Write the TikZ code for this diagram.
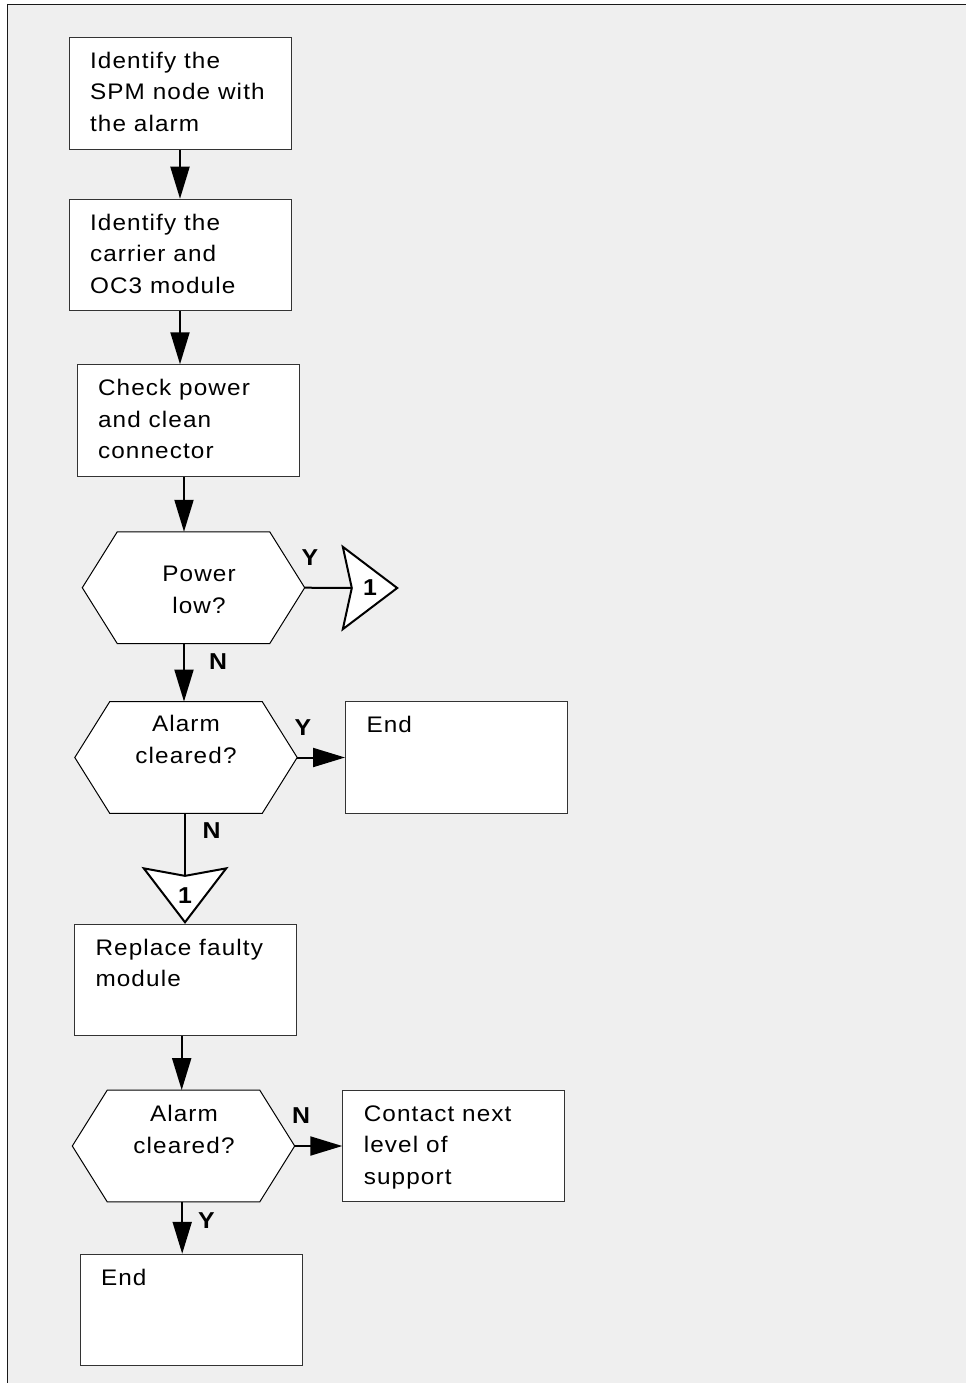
\documentclass[tikz,border=0pt]{standalone}
\usepackage{fontspec}
\setmainfont{Liberation Sans}[LetterSpace=5,FakeStretch=1.08]
\usetikzlibrary{arrows.meta,backgrounds}

\definecolor{panel}{RGB}{239,239,239}
\definecolor{boxline}{RGB}{51,51,51}

% hexagonal decision outline built on the anchors of a plain node
\newcommand\hexoutline[1]{%
  \path[hexline] (#1.west) -- ([xshift=35pt]#1.north west) -- ([xshift=-35pt]#1.north east)
    -- (#1.east) -- ([xshift=-35pt]#1.south east) -- ([xshift=35pt]#1.south west) -- cycle;}

\begin{document}
\begin{tikzpicture}[x=1pt,y=-1pt,
  box/.style={draw=boxline, line width=1pt, fill=white, minimum width=222pt,
    minimum height=111.5pt, inner sep=0pt},
  hexframe/.style={minimum width=222pt, minimum height=111.5pt, inner sep=0pt},
  hexline/.style={draw=black, line width=1pt, fill=white, line join=miter},
  pageconn/.style={draw=black, line width=2pt, fill=white, line join=miter},
  conn/.style={inner sep=0pt, font=\bfseries\fontsize{23}{27}\selectfont},
  txt/.style={font=\fontsize{22.5}{31.5}\selectfont, align=left, inner sep=0pt, anchor=north west},
  qtxt/.style={font=\fontsize{22.5}{31.5}\selectfont, align=center, inner sep=0pt, anchor=north},
  yn/.style={font=\bfseries\fontsize{23}{27}\selectfont, inner sep=0pt},
  flow/.style={line width=2pt},
  arr/.style={flow, -{Triangle[length=32pt,width=19pt]}}]

\useasboundingbox (0,0) rectangle (966,1383);

% process boxes
\node[box] (b1) at (180,93.5) {};
\node[box] (b2) at (180,255) {};
\node[box] (b3) at (188,420.5) {};
\node[box] (end1) at (456.5,757.5) {};
\node[box] (b4) at (185.5,980) {};
\node[box] (contact) at (453.8,1146) {};
\node[box] (end2) at (191,1310) {};

\node[txt] (b1t) at ([xshift=21.3pt,yshift=-9pt]b1.north west) {\strut Identify the\\SPM node with\\the alarm};
\node[txt] (b2t) at ([xshift=21.3pt,yshift=-9pt]b2.north west) {\strut Identify the\\carrier and\\OC3 module};
\node[txt] (b3t) at ([xshift=21.3pt,yshift=-9pt]b3.north west) {\strut Check power\\and clean\\connector};
\node[txt] (end1t) at ([xshift=21.3pt,yshift=-9pt]end1.north west) {\strut End};
\node[txt] (b4t) at ([xshift=21.3pt,yshift=-9pt]b4.north west) {\strut Replace faulty\\module};
\node[txt] (contactt) at ([xshift=21.3pt,yshift=-9pt]contact.north west) {\strut Contact next\\level of\\support};
\node[txt] (end2t) at ([xshift=21.3pt,yshift=-9pt]end2.north west) {\strut End};

% decisions
\node[hexframe] (h1) at (193.5,587.7) {};
\node[hexframe] (h2) at (186,757.5) {};
\node[hexframe] (h3) at (183.5,1146) {};
\node[qtxt] (h1t) at (199,559.7) {\strut Power\\low?};
\node[qtxt] (h2t) at (186,709.7) {\strut Alarm\\cleared?};
\node[qtxt] (h3t) at (184,1099.7) {\strut Alarm\\cleared?};

% off-page connectors
\node[conn, minimum width=54pt, minimum height=82pt] (c1) at (370,588) {1};
\node[conn, minimum width=82pt, minimum height=53.5pt] (c2) at (185,895.3) {1};

\begin{scope}[on background layer]
  \fill[white] (0,0) rectangle (966,1383);
  \fill[panel] (7.5,4.5) rectangle (966,1383);
  \draw[line width=1.3pt, black!90] (7,4.5) -- (966,4.5);
  \draw[line width=1.3pt, black!90] (7.5,4) -- (7.5,1383);
  \hexoutline{h1}
  \hexoutline{h2}
  \hexoutline{h3}
  \path[pageconn] (c1.north west) -- (c1.east) -- (c1.south west) -- ([xshift=9pt]c1.west) -- cycle;
  \path[pageconn] (c2.north west) -- ([yshift=-7.5pt]c2.north) -- (c2.north east) -- (c2.south) -- cycle;
\end{scope}

% connectors
\draw[arr] (b1) -- (b2);
\draw[arr] (b2.south) -- (b2.south |- b3.north);
\draw[arr] ([xshift=-4pt]b3.south) -- ([xshift=-4pt]b3.south |- h1.north);
\draw[arr] ([xshift=-9.5pt]h1.south) -- ([xshift=-9.5pt]h1.south |- h2.north);
\draw[flow] (h1.east) -- ([xshift=9pt]c1.west);
\draw[arr] (h2.east) -- (h2.east -| end1.west);
\draw[flow] (c2.north |- h2.south) -- ([yshift=-7.5pt]c2.north);
\draw[arr] ([xshift=-3.8pt]b4.south) -- ([xshift=-3.8pt]b4.south |- h3.north);
\draw[arr] (h3.east) -- (h3.east -| contact.west);
\draw[arr] ([xshift=-1.3pt]h3.south) -- ([xshift=-1.3pt]h3.south |- end2.north);

% branch labels
\node[yn] (y1) at (310,558) {Y};
\node[yn] (n1) at (218,662) {N};
\node[yn] (y2) at (303,728) {Y};
\node[yn] (n2) at (211.7,830.7) {N};
\node[yn] (n3) at (301,1115.7) {N};
\node[yn] (y3) at (206.3,1221) {Y};
\end{tikzpicture}
\end{document}
